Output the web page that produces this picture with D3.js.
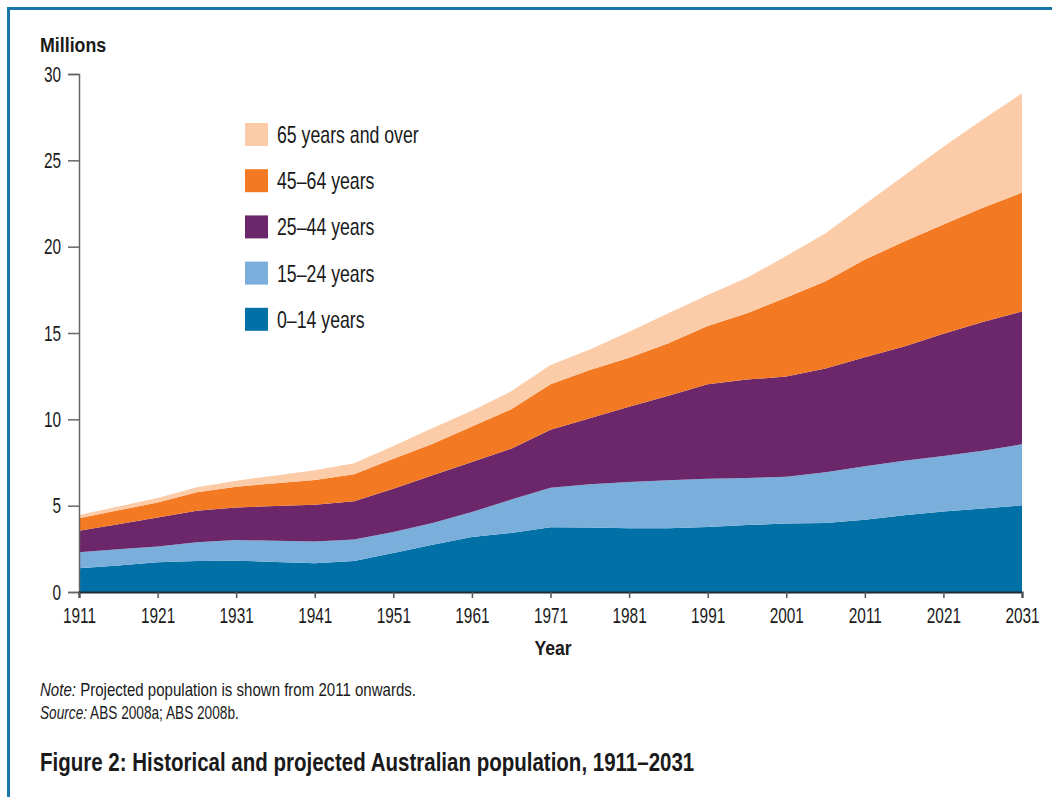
<!DOCTYPE html>
<html>
<head>
<meta charset="utf-8">
<script src="https://cdn.jsdelivr.net/npm/d3@7"></script>
<style>
  html, body { margin: 0; padding: 0; background: #fff; }
  svg { display: block; }
  text { font-family: "Liberation Sans", Arial, sans-serif; fill: #1a1a1a; }
</style>
</head>
<body>
<svg id="chart" width="1052" height="797"></svg>
<script>
const years = [1911,1916,1921,1926,1931,1936,1941,1946,1951,1956,1961,1966,1971,1976,1981,1986,1991,1996,2001,2006,2011,2016,2021,2026,2031];
const age0to14  = [1.37,1.54,1.72,1.80,1.81,1.74,1.66,1.80,2.26,2.74,3.19,3.42,3.75,3.73,3.69,3.69,3.76,3.88,3.96,4.00,4.18,4.45,4.66,4.84,5.02];
const age15to24 = [0.93,0.93,0.92,1.08,1.20,1.23,1.27,1.24,1.21,1.26,1.44,1.93,2.29,2.51,2.68,2.78,2.80,2.72,2.72,2.94,3.11,3.15,3.21,3.34,3.53];
const age25to44 = [1.25,1.46,1.68,1.83,1.89,2.01,2.13,2.22,2.51,2.76,2.90,2.95,3.35,3.82,4.36,4.90,5.47,5.70,5.80,6.00,6.31,6.62,7.08,7.45,7.70];
const age45to64 = [0.72,0.80,0.87,1.06,1.20,1.32,1.43,1.56,1.74,1.83,2.05,2.28,2.64,2.79,2.84,3.03,3.37,3.85,4.57,5.06,5.65,6.08,6.33,6.63,6.88];
const age65plus = [0.19,0.22,0.25,0.29,0.35,0.45,0.56,0.64,0.73,0.91,0.92,1.04,1.11,1.20,1.50,1.74,1.80,2.05,2.41,2.77,3.21,3.82,4.50,5.11,5.75];

const seriesKeys   = ["0–14 years","15–24 years","25–44 years","45–64 years","65 years and over"];
const seriesColors = ["#0070a7","#7aaedb","#6b2769","#f37a22","#fccca8"];
const seriesValues = [age0to14, age15to24, age25to44, age45to64, age65plus];
const yTicks = [0,5,10,15,20,25,30];
const xTicks = [1911,1921,1931,1941,1951,1961,1971,1981,1991,2001,2011,2021,2031];

const svg = d3.select("#chart");

// frame
svg.append("path")
  .attr("d", "M8.5,797 L8.5,8.5 L1052,8.5")
  .attr("fill", "none").attr("stroke", "#1677ab").attr("stroke-width", 3);

const x = d3.scaleLinear().domain([1911, 2031]).range([79, 1022]);
const y = d3.scaleLinear().domain([0, 30]).range([592, 74]);

const table = years.map((yr, i) => {
  const row = { year: yr };
  seriesKeys.forEach((k, j) => row[k] = seriesValues[j][i]);
  return row;
});
const stacked = d3.stack().keys(seriesKeys)(table);

const area = d3.area()
  .x(d => x(d.data.year))
  .y0(d => y(d[0]))
  .y1(d => y(d[1]));

svg.append("g").selectAll("path")
  .data(stacked)
  .join("path")
  .attr("d", area)
  .attr("fill", (d, i) => seriesColors[i]);

// helper: condensed text placed at (px, py)
function ctext(parent, px, py, size, sx, opts = {}) {
  const t = parent.append("text")
    .attr("transform", `translate(${px},${py}) scale(${sx},1)`)
    .attr("font-size", size);
  if (opts.bold) t.attr("font-weight", "bold");
  if (opts.anchor) t.attr("text-anchor", opts.anchor);
  return t;
}

const TSX = 0.7;
// y axis
const yAxis = svg.append("g").attr("transform", "translate(79,0)")
  .call(d3.axisLeft(y).tickValues(yTicks).tickSize(11).tickPadding(7));
yAxis.select(".domain").attr("stroke", "#666").attr("stroke-width", 1.5);
yAxis.selectAll(".tick line").attr("stroke", "#666").attr("stroke-width", 1.5);
yAxis.selectAll(".tick text")
  .attr("font-size", 22).attr("fill", "#1a1a1a")
  .attr("font-family", '"Liberation Sans", Arial, sans-serif')
  .attr("x", -18 / TSX)
  .attr("transform", `scale(${TSX},1)`);

// x axis
const xAxis = svg.append("g").attr("transform", "translate(0,592)")
  .call(d3.axisBottom(x).tickValues(xTicks).tickFormat(d3.format("d")).tickSize(6).tickPadding(9));
xAxis.select(".domain").attr("stroke", "#1e2a33").attr("stroke-width", 2);
xAxis.selectAll(".tick line").attr("stroke", "#555").attr("stroke-width", 1.5);
xAxis.selectAll(".tick text")
  .attr("font-size", 22).attr("fill", "#1a1a1a")
  .attr("font-family", '"Liberation Sans", Arial, sans-serif')
  .attr("transform", `scale(${TSX},1)`);

// axis titles
ctext(svg, 40, 52, 20, 0.89, { bold: true }).text("Millions");
ctext(svg, 553, 655, 21, 0.84, { bold: true, anchor: "middle" }).text("Year");

// legend
const legendOrder = [4,3,2,1,0];
const legend = svg.append("g");
legendOrder.forEach((si, r) => {
  const cy = 134.5 + r * 46.2;
  legend.append("rect").attr("x", 245).attr("y", cy - 11.5).attr("width", 23).attr("height", 23)
    .attr("fill", seriesColors[si]);
  ctext(legend, 277, cy + 8.5, 23, 0.77).text(seriesKeys[si]);
});

// notes
const note = ctext(svg, 40, 696, 17.5, 0.86);
note.append("tspan").attr("font-style", "italic").text("Note:");
note.append("tspan").text(" Projected population is shown from 2011 onwards.");
const src = ctext(svg, 40, 719, 17.5, 0.78);
src.append("tspan").attr("font-style", "italic").text("Source:");
src.append("tspan").text(" ABS 2008a; ABS 2008b.");

ctext(svg, 40, 771, 25, 0.82, { bold: true })
  .text("Figure 2: Historical and projected Australian population, 1911–2031");
</script>
</body>
</html>
